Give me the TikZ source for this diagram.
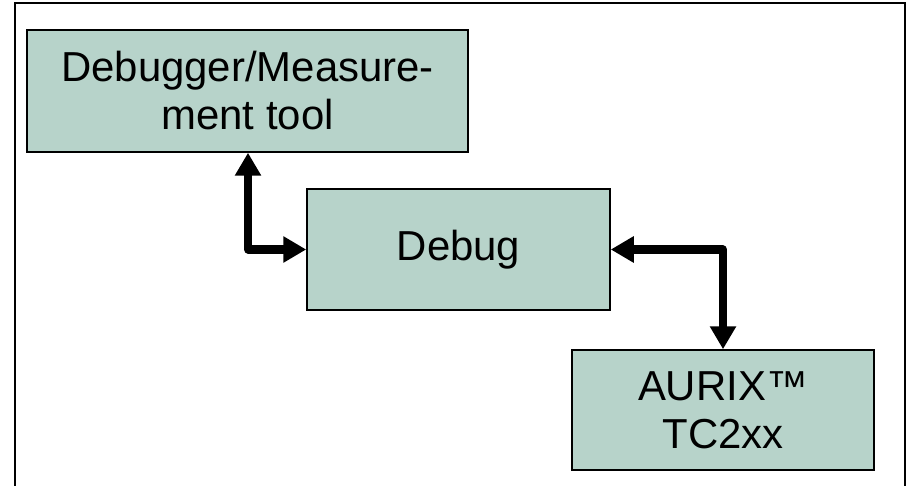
\documentclass[tikz,border=0pt]{standalone}
\usepackage{fontspec}
\setmainfont{Liberation Sans}
\usetikzlibrary{arrows.meta}
\definecolor{boxfill}{RGB}{183,211,202}
\begin{document}
\begin{tikzpicture}[x=1pt,y=-1pt,
  blk/.style={draw=black,line width=1.5pt,fill=boxfill,inner sep=0pt,align=center,
    font=\fontsize{41.9}{48}\selectfont},
  dbl/.style={line width=8pt,line join=round,
    {Triangle[width=25pt,length=23pt]}-{Triangle[width=25pt,length=23pt]}}]
\useasboundingbox (0,0) rectangle (912,486);
\draw[line width=2.5pt] (15,487) -- (15,3) -- (905,3) -- (905,487);
\node[blk,minimum width=441pt,minimum height=122pt] (d1) at (247.5,91) {Debugger/Measure-\\ment tool};
\node[blk,minimum width=303pt,minimum height=121pt] (d2) at (458.5,249.5) {Debug};
\node[blk,minimum width=302pt,minimum height=120pt] (d3) at (723,410) {AURIX™\\TC2xx};
\coordinate (c1) at (248,249.5);
\coordinate (c2) at (723,249.5);
\draw[dbl] (d1.south -| c1) |- (d2.west);
\draw[dbl] (d2.east) -| (d3.north -| c2);
\end{tikzpicture}
\end{document}
